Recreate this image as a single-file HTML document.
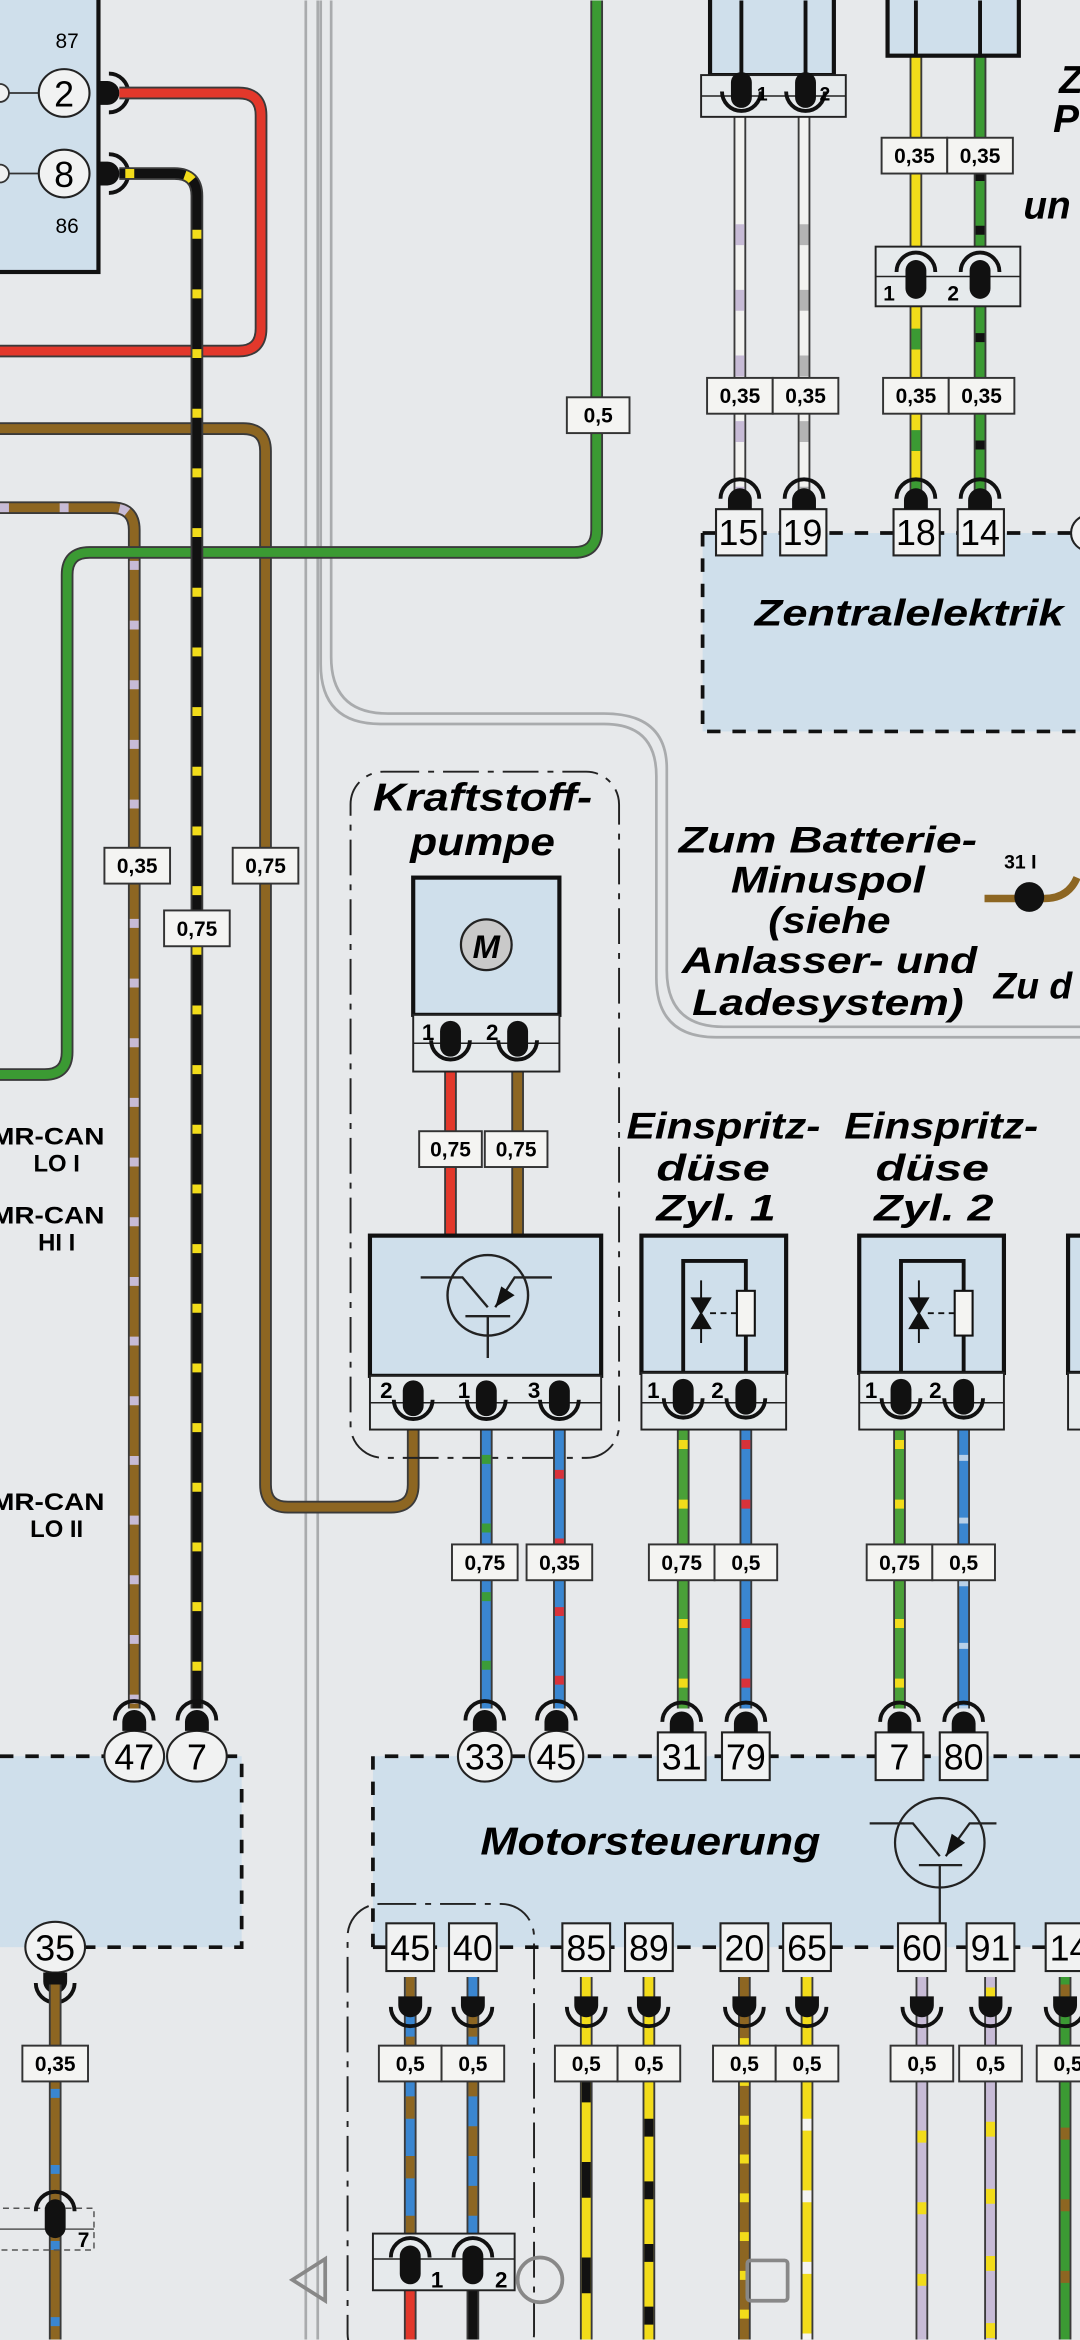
<!DOCTYPE html>
<html><head><meta charset="utf-8">
<style>
html,body{margin:0;padding:0;background:#e7e9eb;}
svg{display:block;}
.o{fill:none;stroke:#3a3a3a;stroke-width:8.5;}
.c{fill:none;stroke-width:6;}
.t{font-family:"Liberation Sans",sans-serif;}
.bi{font-family:"Liberation Sans",sans-serif;font-weight:bold;font-style:italic;}
.bu{font-family:"Liberation Sans",sans-serif;font-weight:bold;}
.lb rect{fill:#f4f4f2;stroke:#333;stroke-width:1.3;}
.lb text{font-family:"Liberation Sans",sans-serif;font-weight:bold;font-size:14px;text-anchor:middle;}
.pn rect,.pn ellipse{fill:#f1f2f2;stroke:#222;stroke-width:1.4;}
.pn text{font-family:"Liberation Sans",sans-serif;font-size:24px;text-anchor:middle;}
.dash{fill:none;stroke:#111;stroke-width:2.5;stroke-dasharray:9 8;}
.gl{fill:none;stroke:#a9abad;stroke-width:1.8;}
.box{fill:#cfdfeb;stroke:#111;stroke-width:2.8;}
.strip{fill:#e6eaec;stroke:#222;stroke-width:1.3;}
</style></head><body>
<svg width="1080" height="2340" viewBox="0 0 724 1568" xmlns="http://www.w3.org/2000/svg">
<defs>
<g id="cu"><path d="M-8,0 V-6 A8,8 0 0 1 8,-6 V0Z" fill="#111"/><path d="M-13,-7 A13,13 0 0 1 13,-7" fill="none" stroke="#111" stroke-width="2.6"/></g>
<g id="cd"><rect x="-7" y="-13" width="14" height="24" rx="7" fill="#111"/><path d="M-13,0 A13,13 0 0 0 13,0" fill="none" stroke="#111" stroke-width="2.6"/></g>
<g id="cp"><rect x="-7" y="-10" width="14" height="26" rx="7" fill="#111"/><path d="M-13,-2 A13,13 0 0 1 13,-2" fill="none" stroke="#111" stroke-width="2.6"/></g>
<g id="cr"><path d="M0,-8 H6 A8,8 0 0 1 6,8 H0Z" fill="#111"/><path d="M7,-13 A13,13 0 0 1 7,13" fill="none" stroke="#111" stroke-width="2.6"/></g>
</defs>
<rect width="724" height="1568" fill="#e7e9eb"/>

<path class="gl" d="M205 0V1568"/>
<path class="gl" d="M213 0V1568"/>
<path class="gl" d="M215 0V445Q215 485 255 485H405Q440 485 440 520V655Q440 695 480 695H724"/>
<path class="gl" d="M222 0V440Q222 478 260 478H405Q447 478 447 515V650Q447 688 485 688H724"/>

<rect x="-5" y="-5" width="71" height="187" class="box"/>
<text x="45" y="32" class="t" font-size="14" text-anchor="middle">87</text>
<text x="45" y="156" class="t" font-size="14" text-anchor="middle">86</text>
<line x1="0" y1="62" x2="27" y2="62" stroke="#333" stroke-width="1.2"/>
<line x1="0" y1="116" x2="27" y2="116" stroke="#333" stroke-width="1.2"/>
<circle cx="0" cy="62" r="6" fill="#f1f2f2" stroke="#333" stroke-width="1.2"/>
<circle cx="0" cy="116" r="6" fill="#f1f2f2" stroke="#333" stroke-width="1.2"/>
<g class="pn"><ellipse cx="43" cy="62" rx="17" ry="16"/><text x="43" y="71">2</text><ellipse cx="43" cy="116" rx="17" ry="16"/><text x="43" y="125">8</text></g>
<use href="#cr" x="66" y="62"/><use href="#cr" x="66" y="116"/>

<path class="o" d="M80 62H160Q175 62 175 77V220Q175 235 160 235H0"/>
<path class="c" stroke="#e2382b" d="M80 62H160Q175 62 175 77V220Q175 235 160 235H0"/>
<path class="o" d="M0 287H163Q178 287 178 302V995Q178 1010 193 1010H262Q277 1010 277 995V958"/>
<path class="c" stroke="#8d6622" d="M0 287H163Q178 287 178 302V995Q178 1010 193 1010H262Q277 1010 277 995V958"/>
<path class="o" d="M0 340H75Q90 340 90 355V1145"/>
<path class="c" stroke="#8d6622" d="M0 340H75Q90 340 90 355V1145"/>
<path class="c" stroke="#c7bbd6" stroke-dasharray="6 34" d="M0 340H75Q90 340 90 355V1145"/>
<path class="o" d="M400 0V355Q400 370 385 370H60Q45 370 45 385V705Q45 720 30 720H0"/>
<path class="c" stroke="#3b9a33" d="M400 0V355Q400 370 385 370H60Q45 370 45 385V705Q45 720 30 720H0"/>
<path class="o" d="M80 116H117Q132 116 132 131V1145"/>
<path class="c" stroke="#111" d="M80 116H117Q132 116 132 131V1145"/>
<path class="c" stroke="#f2dc1a" stroke-dasharray="6 34" d="M84 116H117Q132 116 132 131V1145"/>

<g class="lb"><rect x="380" y="266" width="42" height="24"/><text x="401" y="283">0,5</text>
<rect x="70" y="568" width="44" height="24"/><text x="92" y="585">0,35</text>
<rect x="110" y="610" width="44" height="24"/><text x="132" y="627">0,75</text>
<rect x="156" y="568" width="44" height="24"/><text x="178" y="585">0,75</text></g>

<g class="bu" font-size="16" text-anchor="middle">
<text x="-6" y="767" text-anchor="start" textLength="76" lengthAdjust="spacingAndGlyphs">MR-CAN</text><text x="38" y="785">LO I</text>
<text x="-6" y="820" text-anchor="start" textLength="76" lengthAdjust="spacingAndGlyphs">MR-CAN</text><text x="38" y="838">HI I</text>
<text x="-6" y="1012" text-anchor="start" textLength="76" lengthAdjust="spacingAndGlyphs">MR-CAN</text><text x="38" y="1030">LO II</text></g>

<rect x="235" y="517" width="180" height="460" rx="22" fill="none" stroke="#222" stroke-width="1.3" stroke-dasharray="24 6 4 6"/>
<g class="bi" font-size="26">
<text x="250" y="543" textLength="147" lengthAdjust="spacingAndGlyphs">Kraftstoff-</text>
<text x="275" y="573" textLength="97" lengthAdjust="spacingAndGlyphs">pumpe</text></g>
<path class="o" d="M302 718V828"/><path class="c" stroke="#e2382b" d="M302 718V828"/>
<path class="o" d="M347 718V828"/><path class="c" stroke="#8d6622" d="M347 718V828"/>
<rect x="277" y="588" width="98" height="92" class="box"/>
<circle cx="326" cy="633" r="17" fill="#c9c9c9" stroke="#222" stroke-width="1.5"/>
<text x="326" y="642" class="bi" font-size="22" text-anchor="middle">M</text>
<rect x="277" y="680" width="98" height="38" class="strip"/><line x1="277" y1="699" x2="375" y2="699" stroke="#222" stroke-width="1"/>
<text x="287" y="697" class="t" font-weight="bold" font-size="15" text-anchor="middle">1</text><text x="330" y="697" class="t" font-weight="bold" font-size="15" text-anchor="middle">2</text>
<use href="#cd" x="302" y="697"/><use href="#cd" x="347" y="697"/>
<g class="lb"><rect x="281" y="758" width="42" height="24"/><text x="302" y="775">0,75</text><rect x="325" y="758" width="42" height="24"/><text x="346" y="775">0,75</text></g>

<path class="o" d="M326 958V1145"/><path class="c" stroke="#3a86d0" d="M326 958V1145"/><path class="c" stroke="#3c9c38" stroke-dasharray="6 40" d="M326 975V1145"/>
<path class="o" d="M375 958V1145"/><path class="c" stroke="#3a86d0" d="M375 958V1145"/><path class="c" stroke="#d8323a" stroke-dasharray="6 40" d="M375 985V1145"/>
<rect x="248" y="828" width="155" height="94" class="box"/>
<circle cx="327" cy="868" r="27" fill="none" stroke="#222" stroke-width="1.6"/>
<path d="M282 856H310L327 876M370 856H345L332 876M312 882H342M327 882V910" fill="none" stroke="#222" stroke-width="1.6"/>
<path d="M332 876L336 862L345 868Z" fill="#111"/>
<rect x="248" y="922" width="155" height="36" class="strip"/><line x1="248" y1="940" x2="403" y2="940" stroke="#222" stroke-width="1"/>
<g class="t" font-weight="bold" font-size="15" text-anchor="middle"><text x="259" y="937">2</text><text x="311" y="937">1</text><text x="358" y="937">3</text></g>
<use href="#cd" x="277" y="938"/><use href="#cd" x="326" y="938"/><use href="#cd" x="375" y="938"/>
<g class="lb"><rect x="303" y="1035" width="44" height="24"/><text x="325" y="1052">0,75</text><rect x="353" y="1035" width="44" height="24"/><text x="375" y="1052">0,35</text></g>

<g class="bi" font-size="25">
<text x="420" y="763" textLength="130" lengthAdjust="spacingAndGlyphs">Einspritz-</text>
<text x="440" y="791" textLength="76" lengthAdjust="spacingAndGlyphs">düse</text>
<text x="440" y="818" textLength="80" lengthAdjust="spacingAndGlyphs">Zyl. 1</text>
<text x="566" y="763" textLength="130" lengthAdjust="spacingAndGlyphs">Einspritz-</text>
<text x="587" y="791" textLength="76" lengthAdjust="spacingAndGlyphs">düse</text>
<text x="586" y="818" textLength="80" lengthAdjust="spacingAndGlyphs">Zyl. 2</text></g>

<path class="o" d="M458 958V1145"/><path class="c" stroke="#4aa038" d="M458 958V1145"/><path class="c" stroke="#f2dc1a" stroke-dasharray="6 34" d="M458 965V1145"/>
<path class="o" d="M500 958V1145"/><path class="c" stroke="#3a86d0" d="M500 958V1145"/><path class="c" stroke="#d8323a" stroke-dasharray="6 34" d="M500 965V1145"/>
<path class="o" d="M603 958V1145"/><path class="c" stroke="#4aa038" d="M603 958V1145"/><path class="c" stroke="#f2dc1a" stroke-dasharray="6 34" d="M603 965V1145"/>
<path class="o" d="M646 958V1145"/><path class="c" stroke="#3a86d0" d="M646 958V1145"/><path class="c" stroke="#b8d0e8" stroke-dasharray="4 38" d="M646 975V1145"/>

<g id="inj">
<rect x="430" y="828" width="97" height="92" class="box"/>
<path d="M458 920V845H500V865M500 895V920" fill="none" stroke="#111" stroke-width="2.6"/>
<rect x="494" y="865" width="12" height="30" fill="#f4f4f2" stroke="#111" stroke-width="1.4"/>
<path d="M470 858V900M464 870H476L470 880ZM464 890H476L470 880Z" fill="#111" stroke="#111" stroke-width="1.3"/>
<path d="M476 880H494" stroke="#111" stroke-width="1.2" stroke-dasharray="4 3"/>
<rect x="430" y="920" width="97" height="38" class="strip"/><line x1="430" y1="940" x2="527" y2="940" stroke="#222" stroke-width="1"/>
<text x="438" y="937" class="t" font-weight="bold" font-size="15" text-anchor="middle">1</text><text x="481" y="937" class="t" font-weight="bold" font-size="15" text-anchor="middle">2</text>
<use href="#cd" x="458" y="937"/><use href="#cd" x="500" y="937"/>
</g>
<use href="#inj" x="146"/>
<rect x="716" y="828" width="20" height="92" class="box"/><rect x="716" y="920" width="20" height="38" class="strip"/>
<g class="lb"><rect x="435" y="1035" width="44" height="24"/><text x="457" y="1052">0,75</text><rect x="479" y="1035" width="42" height="24"/><text x="500" y="1052">0,5</text>
<rect x="581" y="1035" width="44" height="24"/><text x="603" y="1052">0,75</text><rect x="625" y="1035" width="42" height="24"/><text x="646" y="1052">0,5</text></g>

<rect x="250" y="1177" width="480" height="128" fill="#cfdfeb"/>
<path class="dash" d="M250 1305V1177H730"/>
<text x="322" y="1243" class="bi" font-size="26" textLength="228" lengthAdjust="spacingAndGlyphs">Motorsteuerung</text>
<circle cx="630" cy="1235" r="30" fill="none" stroke="#222" stroke-width="1.5"/>
<path d="M583 1222H612L630 1244M668 1222H650L634 1244M616 1250H645M630 1250V1290" fill="none" stroke="#222" stroke-width="1.5"/>
<path d="M634 1244L638 1229L647 1235Z" fill="#111"/>
<g class="pn"><ellipse cx="325" cy="1177" rx="18" ry="17"/><text x="325" y="1186">33</text><ellipse cx="373" cy="1177" rx="18" ry="17"/><text x="373" y="1186">45</text>
<rect x="441" y="1161" width="32" height="32"/><text x="457" y="1186">31</text><rect x="484" y="1161" width="32" height="32"/><text x="500" y="1186">79</text>
<rect x="587" y="1161" width="32" height="32"/><text x="603" y="1186">7</text><rect x="630" y="1161" width="32" height="32"/><text x="646" y="1186">80</text></g>
<use href="#cu" x="325" y="1160"/><use href="#cu" x="373" y="1160"/><use href="#cu" x="457" y="1161"/><use href="#cu" x="500" y="1161"/><use href="#cu" x="603" y="1161"/><use href="#cu" x="646" y="1161"/>

<rect x="0" y="1177" width="162" height="128" fill="#cfdfeb"/>
<path class="dash" d="M0 1177H72M150 1177H162V1305H55"/>
<g class="pn"><ellipse cx="90" cy="1177" rx="20" ry="17"/><text x="90" y="1186">47</text><ellipse cx="132" cy="1177" rx="20" ry="17"/><text x="132" y="1186">7</text>
<ellipse cx="37" cy="1305" rx="20" ry="17"/><text x="37" y="1314">35</text></g>
<use href="#cu" x="90" y="1160"/><use href="#cu" x="132" y="1160"/>
<g transform="translate(37 1322) scale(1 -1)"><use href="#cu"/></g>
<path class="o" d="M37 1330V1568"/><path class="c" stroke="#8d6622" d="M37 1330V1568"/><path class="c" stroke="#3a86d0" stroke-dasharray="6 45" d="M37 1400V1568"/>
<g class="lb"><rect x="15" y="1371" width="44" height="24"/><text x="37" y="1388">0,35</text></g>
<rect x="-5" y="1480" width="68" height="28" fill="none" stroke="#555" stroke-width="1" stroke-dasharray="4 3"/><line x1="0" y1="1494" x2="63" y2="1494" stroke="#555" stroke-width="1"/>
<use href="#cp" x="37" y="1484"/><text x="56" y="1506" class="t" font-weight="bold" font-size="14" text-anchor="middle">7</text>

<rect x="233" y="1276" width="125" height="310" rx="22" fill="none" stroke="#222" stroke-width="1.3" stroke-dasharray="24 6 4 6"/>
<path class="dash" d="M250 1305H724"/>
<g>
<path class="o" d="M275 1325V1497"/><path class="c" stroke="#3a86d0" d="M275 1325V1497"/><path class="c" stroke="#8d6622" stroke-dasharray="15 25" d="M275 1325V1497"/>
<path class="o" d="M275 1535V1568"/><path class="c" stroke="#e2382b" d="M275 1535V1568"/>
<path class="o" d="M317 1325V1497"/><path class="c" stroke="#3a86d0" d="M317 1325V1497"/><path class="c" stroke="#8d6622" stroke-dasharray="20 20" d="M317 1345V1497"/>
<path class="o" d="M317 1535V1568"/><path class="c" stroke="#111" d="M317 1535V1568"/>
<path class="o" d="M393 1325V1568"/><path class="c" stroke="#f2dc1a" d="M393 1325V1568"/><path class="c" stroke="#111" stroke-dasharray="24 40" d="M393 1385V1568"/>
<path class="o" d="M435 1325V1568"/><path class="c" stroke="#f2dc1a" d="M435 1325V1568"/><path class="c" stroke="#111" stroke-dasharray="12 30" d="M435 1420V1568"/>
<path class="o" d="M499 1325V1568"/><path class="c" stroke="#8d6622" d="M499 1325V1568"/><path class="c" stroke="#f2dc1a" stroke-dasharray="6 20" d="M499 1340V1568"/>
<path class="o" d="M541 1325V1568"/><path class="c" stroke="#f2dc1a" d="M541 1325V1568"/><path class="c" stroke="#f4f4f2" stroke-dasharray="8 40" d="M541 1420V1568"/>
<path class="o" d="M618 1325V1568"/><path class="c" stroke="#c7bbd6" d="M618 1325V1568"/><path class="c" stroke="#f2dc1a" stroke-dasharray="8 40" d="M618 1380V1568"/>
<path class="o" d="M664 1325V1568"/><path class="c" stroke="#c7bbd6" d="M664 1325V1568"/><path class="c" stroke="#f2dc1a" stroke-dasharray="10 35" d="M664 1332V1568"/>
<path class="o" d="M714 1325V1568"/><path class="c" stroke="#3b9a33" d="M714 1325V1568"/><path class="c" stroke="#8d6622" stroke-dasharray="8 40" d="M714 1330V1568"/>
</g>
<g class="pn">
<rect x="259" y="1289" width="32" height="32"/><text x="275" y="1314">45</text><rect x="301" y="1289" width="32" height="32"/><text x="317" y="1314">40</text>
<rect x="377" y="1289" width="32" height="32"/><text x="393" y="1314">85</text><rect x="419" y="1289" width="32" height="32"/><text x="435" y="1314">89</text>
<rect x="483" y="1289" width="32" height="32"/><text x="499" y="1314">20</text><rect x="525" y="1289" width="32" height="32"/><text x="541" y="1314">65</text>
<rect x="602" y="1289" width="32" height="32"/><text x="618" y="1314">60</text><rect x="648" y="1289" width="32" height="32"/><text x="664" y="1314">91</text>
<rect x="701" y="1289" width="32" height="32"/><text x="717" y="1314">14</text></g>
<g>
<g transform="translate(275 1338) scale(1 -1)"><use href="#cu"/></g><g transform="translate(317 1338) scale(1 -1)"><use href="#cu"/></g>
<g transform="translate(393 1338) scale(1 -1)"><use href="#cu"/></g><g transform="translate(435 1338) scale(1 -1)"><use href="#cu"/></g>
<g transform="translate(499 1338) scale(1 -1)"><use href="#cu"/></g><g transform="translate(541 1338) scale(1 -1)"><use href="#cu"/></g>
<g transform="translate(618 1338) scale(1 -1)"><use href="#cu"/></g><g transform="translate(664 1338) scale(1 -1)"><use href="#cu"/></g>
<g transform="translate(714 1338) scale(1 -1)"><use href="#cu"/></g></g>
<g class="lb">
<rect x="254" y="1371" width="42" height="24"/><text x="275" y="1388">0,5</text><rect x="296" y="1371" width="42" height="24"/><text x="317" y="1388">0,5</text>
<rect x="372" y="1371" width="42" height="24"/><text x="393" y="1388">0,5</text><rect x="414" y="1371" width="42" height="24"/><text x="435" y="1388">0,5</text>
<rect x="478" y="1371" width="42" height="24"/><text x="499" y="1388">0,5</text><rect x="520" y="1371" width="42" height="24"/><text x="541" y="1388">0,5</text>
<rect x="597" y="1371" width="42" height="24"/><text x="618" y="1388">0,5</text><rect x="643" y="1371" width="42" height="24"/><text x="664" y="1388">0,5</text>
<rect x="695" y="1371" width="42" height="24"/><text x="716" y="1388">0,5</text></g>
<rect x="250" y="1497" width="95" height="38" class="strip"/><line x1="250" y1="1514" x2="345" y2="1514" stroke="#222" stroke-width="1"/>
<use href="#cp" x="275" y="1515"/><use href="#cp" x="317" y="1515"/>
<text x="293" y="1533" class="t" font-weight="bold" font-size="15" text-anchor="middle">1</text><text x="336" y="1533" class="t" font-weight="bold" font-size="15" text-anchor="middle">2</text>

<path class="o" d="M496 77V340"/><path class="c" stroke="#f2f2f0" d="M496 77V340"/><path class="c" stroke="#c7bbd6" stroke-dasharray="14 30" d="M496 150V340"/>
<path class="o" d="M539 77V340"/><path class="c" stroke="#f2f2f0" d="M539 77V340"/><path class="c" stroke="#b4b4b4" stroke-dasharray="14 30" d="M539 150V340"/>
<path class="o" d="M614 37V340"/><path class="c" stroke="#f2dc1a" d="M614 37V340"/><path class="c" stroke="#3b9a33" stroke-dasharray="14 20" d="M614 220V340"/>
<path class="o" d="M657 37V340"/><path class="c" stroke="#3b9a33" d="M657 37V340"/><path class="c" stroke="#111" stroke-dasharray="6 30" d="M657 115V340"/>
<rect x="476" y="-5" width="83" height="55" class="box"/><path d="M497 0V50M540 0V50" stroke="#111" stroke-width="2.6"/>
<rect x="470" y="50" width="97" height="28" class="strip"/><line x1="470" y1="64" x2="567" y2="64" stroke="#222" stroke-width="1"/>
<use href="#cd" x="497" y="61"/><use href="#cd" x="540" y="61"/>
<text x="511" y="67" class="t" font-weight="bold" font-size="13" text-anchor="middle">1</text><text x="553" y="67" class="t" font-weight="bold" font-size="13" text-anchor="middle">2</text>
<rect x="595" y="-5" width="88" height="42" class="box"/><path d="M614 0V37M657 0V37" stroke="#111" stroke-width="2.6"/>
<rect x="587" y="165" width="97" height="40" class="strip"/><line x1="587" y1="185" x2="684" y2="185" stroke="#222" stroke-width="1"/>
<use href="#cp" x="614" y="184"/><use href="#cp" x="657" y="184"/>
<text x="596" y="201" class="t" font-weight="bold" font-size="14" text-anchor="middle">1</text><text x="639" y="201" class="t" font-weight="bold" font-size="14" text-anchor="middle">2</text>
<g class="lb"><rect x="591" y="92" width="44" height="24"/><text x="613" y="109">0,35</text><rect x="635" y="92" width="44" height="24"/><text x="657" y="109">0,35</text>
<rect x="474" y="253" width="44" height="24"/><text x="496" y="270">0,35</text><rect x="518" y="253" width="44" height="24"/><text x="540" y="270">0,35</text>
<rect x="592" y="253" width="44" height="24"/><text x="614" y="270">0,35</text><rect x="636" y="253" width="44" height="24"/><text x="658" y="270">0,35</text></g>
<g class="bi" font-size="26"><text x="710" y="62">Z</text><text x="706" y="88">P</text><text x="686" y="146">un</text></g>

<rect x="471" y="357" width="260" height="133" fill="#cfdfeb"/>
<path class="dash" d="M471 357H730M471 357V490H730"/>
<text x="506" y="419" class="bi" font-size="25" textLength="207" lengthAdjust="spacingAndGlyphs">Zentralelektrik</text>
<g class="pn"><rect x="480" y="341" width="31" height="31"/><text x="495" y="365">15</text><rect x="523" y="341" width="31" height="31"/><text x="538" y="365">19</text>
<rect x="599" y="341" width="31" height="31"/><text x="614" y="365">18</text><rect x="642" y="341" width="31" height="31"/><text x="657" y="365">14</text></g>
<use href="#cu" x="496" y="341"/><use href="#cu" x="539" y="341"/><use href="#cu" x="614" y="341"/><use href="#cu" x="657" y="341"/>
<circle cx="730" cy="357" r="12" fill="#f1f2f2" stroke="#222" stroke-width="1.4"/>

<g class="bi" font-size="25">
<text x="455" y="571" textLength="200" lengthAdjust="spacingAndGlyphs">Zum Batterie-</text>
<text x="490" y="598" textLength="130" lengthAdjust="spacingAndGlyphs">Minuspol</text>
<text x="515" y="625" textLength="82" lengthAdjust="spacingAndGlyphs">(siehe</text>
<text x="457" y="652" textLength="198" lengthAdjust="spacingAndGlyphs">Anlasser- und</text>
<text x="464" y="680" textLength="182" lengthAdjust="spacingAndGlyphs">Ladesystem)</text>
<text x="666" y="669">Zu d</text></g>
<path d="M660 602H700Q716 602 722 588" fill="none" stroke="#8d6622" stroke-width="5"/>
<circle cx="690" cy="601" r="10" fill="#111"/>
<text x="684" y="582" class="t" font-weight="bold" font-size="13" text-anchor="middle">31 I</text>

<path d="M218 1514L196 1528L218 1542Z" fill="none" stroke="#888" stroke-width="2.5"/>
<circle cx="362" cy="1528" r="15" fill="none" stroke="#888" stroke-width="2.5"/>
<rect x="501" y="1515" width="27" height="27" rx="2" fill="none" stroke="#888" stroke-width="2.5"/>
</svg>
</body></html>
